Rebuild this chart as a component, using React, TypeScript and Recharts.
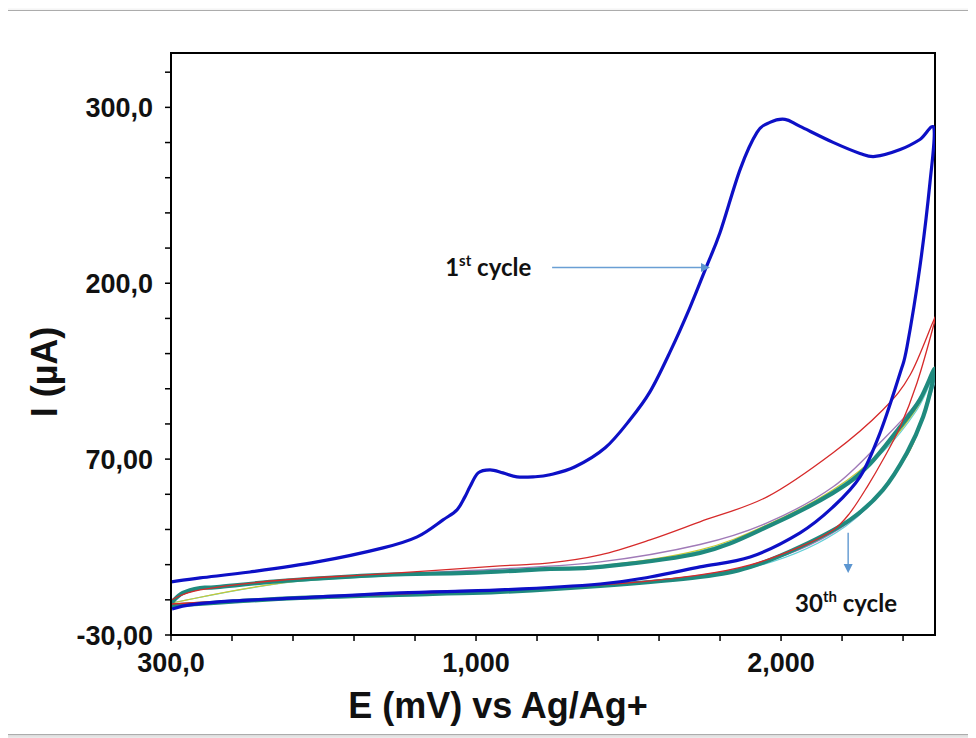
import React from "react"
import {
  LineChart,
  Line,
  XAxis,
  YAxis,
  ReferenceArea,
  ReferenceLine,
  ReferenceDot,
} from "recharts"

// potential (mV) and current (µA) for each recorded scan, forward then reverse
const cycle1E = [300, 381, 520, 707, 891, 986, 1058, 1097, 1119, 1133, 1156, 1189, 1225, 1264, 1309, 1356, 1426, 1510, 1579, 1635, 1691, 1746, 1791, 1830, 1886, 1933, 1969, 2011, 2053, 2145, 2220, 2262, 2332, 2387, 2426, 2415, 2387, 2351, 2332, 2276, 2220, 2145, 2053, 1914, 1774, 1635, 1496, 1217, 938, 660, 473, 353, 303]
const cycle1I = [3.2, 5.7, 9.4, 15.7, 24.5, 31.4, 42.0, 48.3, 56.4, 62.7, 71.4, 73.3, 71.4, 68.9, 68.9, 70.2, 75.2, 87.1, 104.6, 122.2, 147.2, 174.8, 199.8, 221.7, 261.2, 284.3, 290.6, 292.5, 288.1, 278.1, 271.2, 269.3, 273.6, 279.9, 286.8, 253.0, 200.4, 150.3, 134.0, 96.5, 68.9, 50.1, 33.9, 18.8, 12.6, 6.3, 1.9, -1.8, -3.7, -6.8, -8.7, -11.2, -13.7]

const cycle2E = [300, 381, 612, 891, 1217, 1356, 1496, 1635, 1774, 1961, 2145, 2284, 2360, 2426, 2424, 2379, 2332, 2284, 2240, 2192, 2145, 2053, 1914, 1774, 1496, 938, 520, 300]
const cycle2I = [-8.1, -1.8, 4.4, 8.2, 13.2, 15.1, 20.1, 29.5, 40.8, 56.4, 84.0, 110.9, 132.8, 167.2, 162.8, 127.8, 100.2, 79.6, 62.7, 46.4, 35.7, 25.1, 13.8, 7.6, 1.3, -4.3, -8.1, -10.6]

const cycle3E = [300, 381, 660, 938, 1217, 1496, 1774, 1961, 2145, 2284, 2379, 2424, 2424, 2351, 2192, 1914, 1496, 938, 300]
const cycle3I = [-9.4, -1.2, 4.4, 8.2, 11.3, 15.7, 26.6, 40.1, 62.7, 92.1, 115.3, 131.5, 126.5, 82.7, 40.8, 13.2, 1.3, -3.7, -11.9]

const cycle4E = [300, 660, 1217, 1496, 1774, 1961, 2145, 2284, 2379, 2426, 2415, 2351, 2192, 1914, 1496, 660, 300]
const cycle4I = [-10, 3.8, 10.1, 13.2, 23.2, 38.9, 60.8, 85.8, 112.2, 134.7, 123.4, 82.1, 41.4, 13.2, 1.3, -6.2, -11.9]

const cycle5E = [300, 660, 1217, 1496, 1774, 1961, 2145, 2284, 2379, 2426, 2420, 2340, 2180, 1914, 1496, 660, 300]
const cycle5I = [-10, 3.6, 9.6, 12.8, 22.6, 38.2, 60.2, 84.6, 110.9, 132.8, 122, 80, 38, 12, 0.8, -6.6, -12]

const cycle30E = [300, 333, 381, 428, 612, 891, 1125, 1356, 1496, 1774, 1961, 2145, 2240, 2332, 2387, 2426, 2424, 2396, 2351, 2284, 2192, 2053, 1914, 1774, 1496, 1217, 1030, 660, 333, 300]
const cycle30I = [-10, -3.7, -0.6, 0.0, 3.8, 7.6, 8.8, 11.3, 12.6, 21.3, 37.6, 58.9, 75.2, 100.2, 117.2, 135.9, 129.7, 106.5, 84.0, 60.8, 42.0, 25.1, 12.6, 6.3, 0.7, -3.1, -4.3, -6.8, -11.2, -12.5]

// axes
const xDomain = [300, 2429]
const yDomain = [-30, 334]
const xTicks = [300, 470, 640, 810, 980, 1150, 1320, 1490, 1660, 1830, 2000, 2170, 2340]
const xTickLabels: Record<number, string> = { 300: "300,0", 1150: "1,000", 2000: "2,000" }
const yTicks = [-30, -8, 14, 36, 58, 80, 102, 124, 146, 168, 190, 212, 234, 256, 278, 300, 322]
const yTickLabels: Record<number, string> = { [-30]: "-30,00", 80: "70,00", 190: "200,0", 300: "300,0" }

// annotation anchors (mV, µA)
const firstLabel = { e: 1064, i: 194.8 }
const firstArrow = [{ x: 1362, y: 199.8 }, { x: 1802, y: 199.8 }]
const lastLabel = { e: 2039, i: -15.5 }
const lastArrow = [{ x: 2187, y: 33.9 }, { x: 2187, y: 8.8 }]

const toPoints = (E: number[], I: number[]) => E.map((e, k) => ({ e, i: I[k] }))

// thin intermediate scans first, then the 30th and the 1st on top
const series = [
  { name: "5", data: toPoints(cycle5E, cycle5I), color: "#63cfd6", width: 1.2 },
  { name: "4", data: toPoints(cycle4E, cycle4I), color: "#c8c834", width: 1.2 },
  { name: "3", data: toPoints(cycle3E, cycle3I), color: "#a07ab8", width: 1.4 },
  { name: "30", data: toPoints(cycle30E, cycle30I), color: "#1f8a7e", width: 4.2 },
  { name: "2", data: toPoints(cycle2E, cycle2I), color: "#d62a2a", width: 1.3 },
  { name: "1", data: toPoints(cycle1E, cycle1I), color: "#0d10c6", width: 3.2 },
]

// catmull-rom style curve: works for the loops of a voltammogram (x not monotonic)
const smoothLoop = (context: any) => {
  let pts: [number, number][] = []
  let line = NaN
  return {
    areaStart() { line = 0 },
    areaEnd() { line = NaN },
    lineStart() { pts = [] },
    point(x: number, y: number) { pts.push([+x, +y]) },
    lineEnd() {
      if (pts.length > 0) {
        if (line) context.lineTo(pts[0][0], pts[0][1])
        else context.moveTo(pts[0][0], pts[0][1])
        for (let k = 0; k < pts.length - 1; k++) {
          const p0 = pts[k - 1] || pts[k]
          const p1 = pts[k]
          const p2 = pts[k + 1]
          const p3 = pts[k + 2] || p2
          context.bezierCurveTo(
            p1[0] + (p2[0] - p0[0]) / 6,
            p1[1] + (p2[1] - p0[1]) / 6,
            p2[0] - (p3[0] - p1[0]) / 6,
            p2[1] - (p3[1] - p1[1]) / 6,
            p2[0],
            p2[1],
          )
        }
      }
      if (line) context.closePath()
      line = 1 - line
    },
  }
}

const axisFont = "'Liberation Sans', Arial, sans-serif"
const noteFont = "Lato, 'Open Sans', sans-serif"

function Arrow(props: any) {
  const { x1, y1, x2, y2 } = props
  const ang = Math.atan2(y2 - y1, x2 - x1)
  const len = 9
  const half = 4.5
  const bx = x2 - len * Math.cos(ang)
  const by = y2 - len * Math.sin(ang)
  const px = -Math.sin(ang) * half
  const py = Math.cos(ang) * half
  return (
    <g>
      <line x1={x1} y1={y1} x2={bx} y2={by} stroke="#6a9fd4" strokeWidth={1.5} />
      <polygon points={`${x2},${y2} ${bx + px},${by + py} ${bx - px},${by - py}`} fill="#5b95d0" />
    </g>
  )
}

function Note(text: string, sup: string) {
  return (props: any) => (
    <text x={props.cx} y={props.cy} fill="#111" fontFamily={noteFont} fontWeight={700} fontSize={24}>
      {text}
      <tspan fontSize={15} dy={-10}>{sup}</tspan>
      <tspan dy={10}> cycle</tspan>
    </text>
  )
}

export default function App() {
  return (
    <div style={{ position: "relative", width: 976, height: 738, margin: "-8px 0 0 -8px", background: "#fff", overflow: "hidden" }}>
      <div
        style={{
          position: "absolute",
          left: 5,
          top: 10,
          width: 990,
          height: 723,
          border: "1.5px solid #acacac",
          boxShadow: "-2px 2px 6px rgba(0,0,0,0.2)",
        }}
      />
      <div style={{ position: "absolute", left: 0, top: 0 }}>
        <LineChart width={976} height={738} margin={{ top: 53, right: 41, left: 51, bottom: 43 }}>
          <XAxis
            dataKey="e"
            type="number"
            domain={xDomain}
            allowDataOverflow
            ticks={xTicks}
            interval={0}
            height={60}
            tickSize={6}
            tickMargin={12}
            tickFormatter={(v: number) => xTickLabels[v] ?? ""}
            tick={{ fill: "#111", fontSize: 27, fontWeight: 700, fontFamily: axisFont }}
            tickLine={{ stroke: "#000", strokeWidth: 1.5 }}
            axisLine={{ stroke: "#000", strokeWidth: 2 }}
            label={(p: any) => {
              const vb = p.viewBox
              return (
                <text x={vb.x + vb.width / 2 - 55} y={718} textAnchor="middle" fill="#111" fontFamily={axisFont} fontWeight={700} fontSize={36}>
                  E (mV) vs Ag/Ag+
                </text>
              )
            }}
          />
          <YAxis
            type="number"
            domain={yDomain}
            allowDataOverflow
            ticks={yTicks}
            interval={0}
            width={120}
            tickSize={6}
            tickMargin={12}
            tickFormatter={(v: number) => yTickLabels[v] ?? ""}
            tick={{ fill: "#111", fontSize: 27, fontWeight: 700, fontFamily: axisFont }}
            tickLine={{ stroke: "#000", strokeWidth: 1.5 }}
            axisLine={{ stroke: "#000", strokeWidth: 2 }}
            label={(p: any) => {
              const vb = p.viewBox
              const cx = vb.x - 7
              const cy = vb.y + vb.height / 2 + 28
              return (
                <text x={cx} y={cy} transform={`rotate(-90 ${cx} ${cy})`} textAnchor="middle" dominantBaseline="central" fill="#111" fontFamily={axisFont} fontWeight={700} fontSize={36}>
                  I (µA)
                </text>
              )
            }}
          />
          <ReferenceArea x1={xDomain[0]} x2={xDomain[1]} y1={yDomain[0]} y2={yDomain[1]} fill="none" stroke="#000" strokeWidth={2} ifOverflow="visible" />
          {series.map((s) => (
            <Line
              key={s.name}
              data={s.data}
              dataKey="i"
              type={smoothLoop as any}
              stroke={s.color}
              strokeWidth={s.width}
              strokeLinejoin="round"
              dot={false}
              activeDot={false}
              isAnimationActive={false}
            />
          ))}
          <ReferenceLine segment={firstArrow} shape={Arrow} ifOverflow="visible" />
          <ReferenceLine segment={lastArrow} shape={Arrow} ifOverflow="visible" />
          <ReferenceDot x={firstLabel.e} y={firstLabel.i} r={0} shape={Note("1", "st")} ifOverflow="visible" />
          <ReferenceDot x={lastLabel.e} y={lastLabel.i} r={0} shape={Note("30", "th")} ifOverflow="visible" />
        </LineChart>
      </div>
    </div>
  )
}
